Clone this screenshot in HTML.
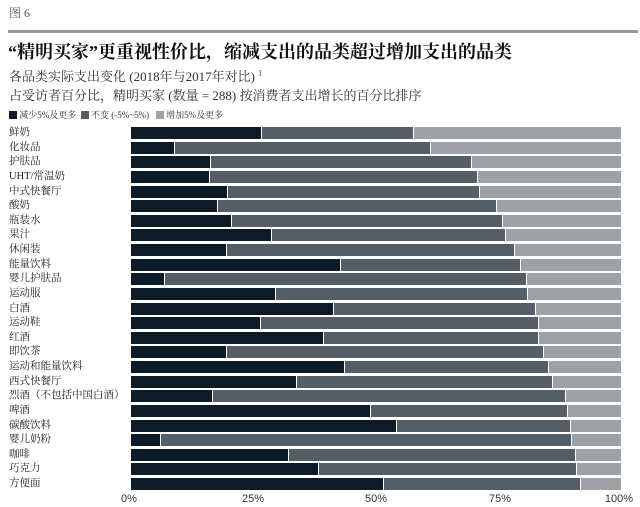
<!DOCTYPE html><html><head><meta charset="utf-8"><style>
body{margin:0;width:640px;height:507px;background:#fff;position:relative;overflow:hidden;font-family:"Liberation Serif","Noto Serif CJK SC",serif;color:#222}
.a{position:absolute;white-space:nowrap}
.lb{position:absolute;left:9px;font-size:10.5px;line-height:12px;color:#222}
.b{position:absolute;height:12px}
.d{background:#0d1a28}.m{background:#555e66}.l{background:#9ea2a6}
.t{position:absolute;top:493px;font-size:11px;font-family:"Liberation Sans",sans-serif;color:#333;width:40px;text-align:center}
</style></head><body>
<div class="a" style="left:9px;top:4px;font-size:12px;color:#555">图 6</div>
<div class="a" style="left:8px;top:30px;width:630px;height:3px;background:#999"></div>
<div class="a" style="left:8px;top:38px;font-size:18px;font-weight:bold;color:#111">“精明买家”更重视性价比，缩减支出的品类超过增加支出的品类</div>
<div class="a" style="left:9px;top:66px;font-size:13px;color:#333">各品类实际支出变化 (2018年与2017年对比) <sup style="font-size:8px">1</sup></div>
<div class="a" style="left:9px;top:85px;font-size:13px;color:#333">占受访者百分比，精明买家 (数量 = 288) 按消费者支出增长的百分比排序</div>
<div class="a" style="left:9px;top:108px;font-size:9px;color:#333"><span style="display:inline-block;width:8px;height:8px;background:#0d1a28;vertical-align:-1px"></span> 减少5%及更多 &nbsp;<span style="display:inline-block;width:8px;height:8px;background:#555e66;vertical-align:-1px"></span> 不变 (-5%~5%) &nbsp;&nbsp;<span style="display:inline-block;width:8px;height:8px;background:#9ea2a6;vertical-align:-1px"></span> 增加5%及更多</div>
<div id="c"></div>
<div class="t" style="left:109px">0%</div><div class="t" style="left:233px">25%</div><div class="t" style="left:356px">50%</div><div class="t" style="left:480px">75%</div><div class="t" style="left:599px">100%</div>
<script>
var d=[["鲜奶",261,413],["化妆品",174,430],["护肤品",210,471],["UHT/常温奶",209,477],["中式快餐厅",227,479],["酸奶",217,496],["瓶装水",231,502],["果汁",271,505],["休闲装",226,514],["能量饮料",340,520],["婴儿护肤品",164,526],["运动服",275,527],["白酒",333,535],["运动鞋",260,538],["红酒",323,538],["即饮茶",226,543],["运动和能量饮料",344,548],["西式快餐厅",296,552],["烈酒（不包括中国白酒）",212,565],["啤酒",370,567],["碳酸饮料",396,570],["婴儿奶粉",160,571],["咖啡",288,575],["巧克力",318,576],["方便面",383,580]];
var h="";d.forEach(function(r,i){var y=127+14.625*i;
h+='<div class="lb" style="top:'+(y)+'px">'+r[0]+'</div>';
h+='<div class="b d" style="left:131px;top:'+y+'px;width:'+(r[1]-131)+'px"></div>';
h+='<div class="b m" style="left:'+(r[1]+1)+'px;top:'+y+'px;width:'+(r[2]-r[1]-1)+'px"></div>';
h+='<div class="b l" style="left:'+(r[2]+1)+'px;top:'+y+'px;width:'+(621-r[2]-1)+'px"></div>';});
document.getElementById("c").innerHTML=h;
</script>
</body></html>
